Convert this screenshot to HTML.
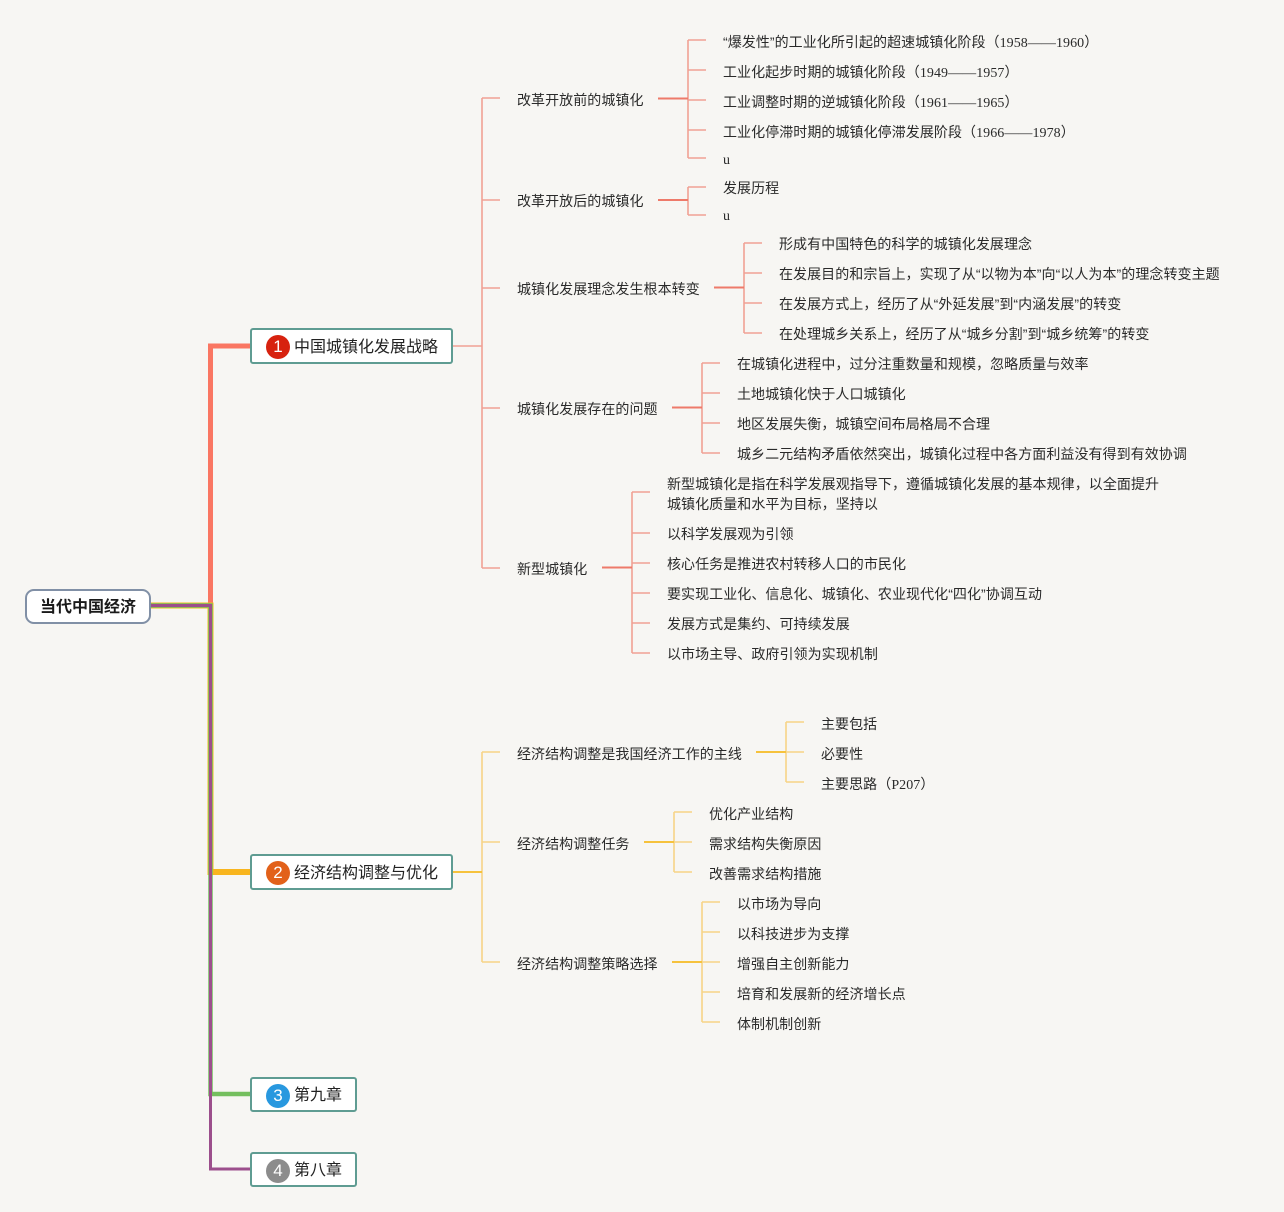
<!DOCTYPE html>
<html><head><meta charset="utf-8">
<style>
html,body{margin:0;padding:0;}
body{width:1284px;height:1212px;background:#f7f6f3;position:relative;overflow:hidden;font-family:"Liberation Sans","Noto Sans CJK SC",sans-serif;}
svg{position:absolute;left:0;top:0;}
.t{position:absolute;font-size:14px;line-height:20px;color:#2a2a2a;white-space:nowrap;letter-spacing:0.06px;margin-top:1px;}
.n{font-family:"Liberation Serif","Noto Sans CJK SC",serif;}
.box{position:absolute;box-sizing:border-box;background:#fff;border:2px solid #5f9c92;border-radius:3px;font-size:16px;color:#222;white-space:nowrap;}
.box .c{position:absolute;left:14px;width:24px;height:24px;border-radius:50%;color:#fff;font-size:17px;line-height:24px;text-align:center;}
.box .l{position:absolute;left:42px;line-height:20px;}
</style></head><body>
<svg width="1284" height="1212" viewBox="0 0 1284 1212" fill="none">
<!-- root bundle -->
<path d="M210.5,607 V346 H251" stroke="#fa7662" stroke-width="5"/>
<path d="M151,605.5 H210.5 V872 H251" stroke="#f8b51e" stroke-width="6"/>
<path d="M151,605.5 H210.5 V1094 H251" stroke="#74bf5e" stroke-width="4.5"/>
<path d="M151,605.5 H210.5 V1169 H251" stroke="#9c4f8c" stroke-width="3"/>

<!-- branch 1 -->
<g stroke="#f0a194" stroke-width="1.6">
<path d="M452,346 H482"/>
<path d="M482,98 V568"/>
<path d="M482,98 H500 M482,200 H500 M482,288 H500 M482,408 H500 M482,568 H500"/>
<path d="M688,40 V158 M688,40 H706 M688,70 H706 M688,100 H706 M688,130 H706 M688,158 H706"/>
<path d="M688,187 V215 M688,187 H706 M688,215 H706"/>
<path d="M744,243 V333 M744,243 H762 M744,273 H762 M744,303 H762 M744,333 H762"/>
<path d="M702,363 V453 M702,363 H720 M702,393 H720 M702,423 H720 M702,453 H720"/>
<path d="M632,492 V653 M632,492 H650 M632,533 H650 M632,563 H650 M632,593 H650 M632,623 H650 M632,653 H650"/>
</g>
<g stroke="#ee7a6a" stroke-width="2">
<path d="M658,98.5 H688"/>
<path d="M658,200 H688"/>
<path d="M714,287.5 H744"/>
<path d="M672,407.5 H702"/>
<path d="M602,567.5 H632"/>
</g>

<!-- branch 2 -->
<g stroke="#f7d486" stroke-width="1.6">
<path d="M482,752 V962"/>
<path d="M482,752 H500 M482,842 H500 M482,962 H500"/>
<path d="M786,722 V782 M786,722 H804 M786,752 H804 M786,782 H804"/>
<path d="M674,812 V872 M674,812 H692 M674,842 H692 M674,872 H692"/>
<path d="M702,902 V1022 M702,902 H720 M702,932 H720 M702,962 H720 M702,992 H720 M702,1022 H720"/>
</g>
<g stroke="#f6c23c" stroke-width="2">
<path d="M452,872 H482"/>
<path d="M756,752 H786"/>
<path d="M644,842 H674"/>
<path d="M672,962 H702"/>
</g>
</svg>

<!-- root -->
<div style="position:absolute;left:25px;top:589px;width:126px;height:35px;box-sizing:border-box;background:#fff;border:2px solid #8190a6;border-radius:9px;font-size:16px;font-weight:bold;color:#1a1a1a;text-align:center;line-height:33px;">当代中国经济</div>

<!-- level 1 nodes -->
<div class="box" style="left:250px;top:328px;width:203px;height:36px;"><div class="c" style="top:5px;background:#d7220f;">1</div><div class="l" style="top:7.5px;">中国城镇化发展战略</div></div>
<div class="box" style="left:250px;top:854px;width:203px;height:36px;"><div class="c" style="top:5px;background:#e2611a;">2</div><div class="l" style="top:7.5px;">经济结构调整与优化</div></div>
<div class="box" style="left:250px;top:1077px;width:107px;height:35px;"><div class="c" style="top:4.5px;background:#2898df;">3</div><div class="l" style="top:7px;">第九章</div></div>
<div class="box" style="left:250px;top:1152px;width:107px;height:35px;"><div class="c" style="top:4.5px;background:#8c8c8c;">4</div><div class="l" style="top:7px;">第八章</div></div>

<!-- branch 1 children -->
<div class="t" style="left:517px;top:89px;">改革开放前的城镇化</div>
<div class="t" style="left:517px;top:190px;">改革开放后的城镇化</div>
<div class="t" style="left:517px;top:278px;">城镇化发展理念发生根本转变</div>
<div class="t" style="left:517px;top:398px;">城镇化发展存在的问题</div>
<div class="t" style="left:517px;top:558px;">新型城镇化</div>

<div class="t" style="left:723px;top:31px;">“爆发性”的工业化所引起的超速城镇化阶段（<span class="n">1958——1960</span>）</div>
<div class="t" style="left:723px;top:61px;">工业化起步时期的城镇化阶段（<span class="n">1949——1957</span>）</div>
<div class="t" style="left:723px;top:91px;">工业调整时期的逆城镇化阶段（<span class="n">1961——1965</span>）</div>
<div class="t" style="left:723px;top:121px;">工业化停滞时期的城镇化停滞发展阶段（<span class="n">1966——1978</span>）</div>
<div class="t n" style="left:723px;top:150px;">u</div>

<div class="t" style="left:723px;top:177px;">发展历程</div>
<div class="t n" style="left:723px;top:206px;">u</div>

<div class="t" style="left:779px;top:233px;">形成有中国特色的科学的城镇化发展理念</div>
<div class="t" style="left:779px;top:263px;">在发展目的和宗旨上，实现了从“以物为本”向“以人为本”的理念转变主题</div>
<div class="t" style="left:779px;top:293px;">在发展方式上，经历了从“外延发展”到“内涵发展”的转变</div>
<div class="t" style="left:779px;top:323px;">在处理城乡关系上，经历了从“城乡分割”到“城乡统筹”的转变</div>

<div class="t" style="left:737px;top:353px;">在城镇化进程中，过分注重数量和规模，忽略质量与效率</div>
<div class="t" style="left:737px;top:383px;">土地城镇化快于人口城镇化</div>
<div class="t" style="left:737px;top:413px;">地区发展失衡，城镇空间布局格局不合理</div>
<div class="t" style="left:737px;top:443px;">城乡二元结构矛盾依然突出，城镇化过程中各方面利益没有得到有效协调</div>

<div class="t" style="left:667px;top:473px;">新型城镇化是指在科学发展观指导下，遵循城镇化发展的基本规律，以全面提升<br>城镇化质量和水平为目标，坚持以</div>
<div class="t" style="left:667px;top:523px;">以科学发展观为引领</div>
<div class="t" style="left:667px;top:553px;">核心任务是推进农村转移人口的市民化</div>
<div class="t" style="left:667px;top:583px;">要实现工业化、信息化、城镇化、农业现代化“四化”协调互动</div>
<div class="t" style="left:667px;top:613px;">发展方式是集约、可持续发展</div>
<div class="t" style="left:667px;top:643px;">以市场主导、政府引领为实现机制</div>

<!-- branch 2 children -->
<div class="t" style="left:517px;top:743px;">经济结构调整是我国经济工作的主线</div>
<div class="t" style="left:517px;top:833px;">经济结构调整任务</div>
<div class="t" style="left:517px;top:953px;">经济结构调整策略选择</div>

<div class="t" style="left:821px;top:713px;">主要包括</div>
<div class="t" style="left:821px;top:743px;">必要性</div>
<div class="t" style="left:821px;top:773px;">主要思路（<span class="n">P207</span>）</div>

<div class="t" style="left:709px;top:803px;">优化产业结构</div>
<div class="t" style="left:709px;top:833px;">需求结构失衡原因</div>
<div class="t" style="left:709px;top:863px;">改善需求结构措施</div>

<div class="t" style="left:737px;top:893px;">以市场为导向</div>
<div class="t" style="left:737px;top:923px;">以科技进步为支撑</div>
<div class="t" style="left:737px;top:953px;">增强自主创新能力</div>
<div class="t" style="left:737px;top:983px;">培育和发展新的经济增长点</div>
<div class="t" style="left:737px;top:1013px;">体制机制创新</div>
</body></html>
